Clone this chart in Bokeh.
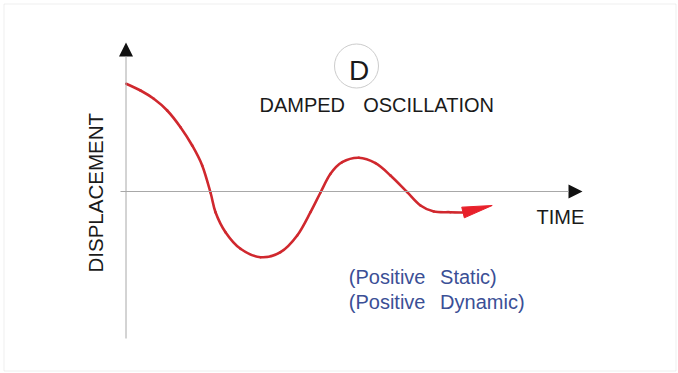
import math
from bokeh.plotting import figure
from bokeh.models import Range1d, Arrow, NormalHead, Label, BoxAnnotation
from bokeh.embed import file_html
from bokeh.resources import INLINE

# ---- data (time vs displacement) ----
time = [0.7, 15, 28.3, 41.7, 55, 66.7, 76.7, 85, 90, 100, 115, 135, 155, 171.7,
        185, 195, 205, 216.7, 233.3, 250, 265, 281.7, 295, 308.3, 325, 337.5]
displacement = [107.7, 101, 92.7, 81, 64.3, 46, 26, -1, -20.7, -40.7, -57.3, -65.7,
                -60.7, -44, -20.7, -1, 17.7, 29.3, 33.7, 28.3, 16, -0.7, -14, -20,
                -20.7, -21]
trend_tip = [366.7, -14]

title_letter = "D"
title_words = ["DAMPED", "OSCILLATION"]
x_label = "TIME"
y_label = "DISPLACEMENT"
notes = [["(Positive", "Static)"], ["(Positive", "Dynamic)"]]

W, H = 678, 373
p = figure(width=W, height=H, output_backend="svg", toolbar_location=None,
           x_range=Range1d(-125, 553), y_range=Range1d(-182, 191),
           min_border=0, background_fill_color="white", border_fill_color="white")
p.axis.visible = False
p.grid.visible = False
p.outline_line_color = None

# frame border
p.add_layout(BoxAnnotation(left=-121.5, right=550.5, top=187.5, bottom=-179.5,
                           fill_alpha=0, line_color="#c8c8c8", line_width=1))

# axes with arrow heads
axis_col = "#a8a8a8"
p.add_layout(Arrow(end=NormalHead(size=14, fill_color="#111111", line_color="#111111", line_width=0),
                   x_start=0.5, y_start=-147, x_end=0.5, y_end=149,
                   line_color=axis_col, line_width=1))
p.add_layout(Arrow(end=NormalHead(size=14, fill_color="#111111", line_color="#111111", line_width=0),
                   x_start=-5, y_start=0, x_end=457, y_end=0,
                   line_color=axis_col, line_width=1))

# damped curve: smooth Bezier segments through the read points (Catmull-Rom control points)
n = len(time)
x0, y0, x1, y1, cx0, cy0, cx1, cy1 = [], [], [], [], [], [], [], []
for i in range(n - 1):
    a = max(i - 1, 0)
    d = min(i + 2, n - 1)
    x0.append(time[i]); y0.append(displacement[i])
    x1.append(time[i + 1]); y1.append(displacement[i + 1])
    cx0.append(time[i] + (time[i + 1] - time[a]) / 6)
    cy0.append(displacement[i] + (displacement[i + 1] - displacement[a]) / 6)
    cx1.append(time[i + 1] - (time[d] - time[i]) / 6)
    cy1.append(displacement[i + 1] - (displacement[d] - displacement[i]) / 6)
p.bezier(x0=x0, y0=y0, x1=x1, y1=y1, cx0=cx0, cy0=cy0, cx1=cx1, cy1=cy1,
         line_color="#d0282e", line_width=2.6, line_cap="round")

# red arrow head at the end of the curve
et, ed = time[-1], displacement[-1]
tt, td = trend_tip
L = math.hypot(tt - et, td - ed)
ux, uy = (tt - et) / L, (td - ed) / L
head_len, half_w = 30, 5.5
bt, bd = tt - head_len * ux, td - head_len * uy
p.patch([tt, bt - half_w * uy, bt + half_w * uy], [td, bd + half_w * ux, bd - half_w * ux],
        fill_color="#e8202a", line_color="#e8202a", line_width=1)

# circled letter
p.scatter([231], [125.5], marker="circle", size=44, fill_color=None,
          line_color="#cccccc", line_width=1)
font = "Liberation Sans"
dy = 7  # label baseline compensation
p.add_layout(Label(x=233.5, y=114 + dy, text=title_letter, text_font=font, text_font_size="28px",
                   text_color="#1a1a1a", text_align="center", text_baseline="alphabetic"))
for word, xx in zip(title_words, [134, 237.7]):
    p.add_layout(Label(x=xx, y=80 + dy, text=word, text_font=font, text_font_size="20px",
                       text_color="#1a1a1a", text_align="left", text_baseline="alphabetic"))
p.add_layout(Label(x=411, y=-32 + dy, text=x_label, text_font=font, text_font_size="20px",
                   text_color="#1a1a1a", text_align="left", text_baseline="alphabetic"))
p.add_layout(Label(x=-23.5 - dy, y=-81, text=y_label, text_font=font, text_font_size="20.5px",
                   text_color="#1a1a1a", text_align="left", text_baseline="alphabetic",
                   angle=math.pi / 2))
for i, (w1, w2) in enumerate(notes):
    for word, xx in zip([w1, w2], [223.3, 314.6]):
        p.add_layout(Label(x=xx, y=-92.3 - 25 * i + dy, text=word, text_font=font,
                           text_font_size="20px", text_color="#3b4f96",
                           text_align="left", text_baseline="alphabetic"))

open("out.html", "w").write(file_html(p, INLINE))
